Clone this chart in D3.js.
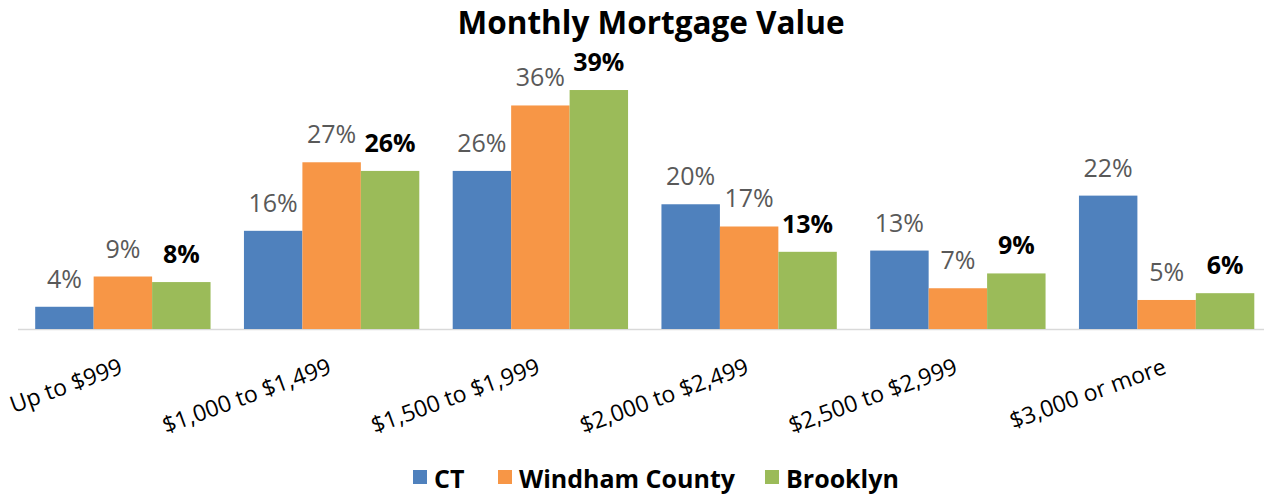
<!DOCTYPE html>
<meta charset="utf-8">
<style>
  body { margin: 0; background: #fff; }
  text { font-family: "Open Sans", sans-serif; }
  .title { font-size: 31.5px; font-weight: bold; fill: #000; }
  .lbl { font-size: 25px; }
  .cat { font-size: 23px; fill: #000; }
  .legend text { font-size: 25px; font-weight: bold; fill: #000; }
</style>
<svg width="1264" height="494"></svg>
<script src="https://d3js.org/d3.v7.min.js"></script>
<script>
  var categories = ["Up to $999", "$1,000 to $1,499", "$1,500 to $1,999", "$2,000 to $2,499", "$2,500 to $2,999", "$3,000 or more"];
  var seriesNames = ["CT", "Windham County", "Brooklyn"];
  var ct = [3.6, 15.9, 25.6, 20.2, 12.7, 21.6];
  var windham = [8.5, 27.0, 36.2, 16.6, 6.6, 4.7];
  var brooklyn = [7.6, 25.6, 38.7, 12.5, 9.0, 5.8];
  var colors = ["#4f81bd", "#f79646", "#9bbb59"];

  var svg = d3.select("svg"),
    baseline = 329;

  var data = categories.map(function(c, i) {
    return { cat: c, values: [ct[i], windham[i], brooklyn[i]] };
  });

  var x = d3.scaleBand().domain(categories).range([18.5, 1271]).paddingInner(0.16).paddingOuter(0.08);
  var xs = d3.scaleBand().domain(d3.range(3)).range([0, x.bandwidth()]);
  var y = d3.scaleLinear().domain([0, 40]).range([baseline, baseline - 247]);

  svg.append("text")
    .attr("class", "title")
    .attr("x", 651)
    .attr("y", 34)
    .attr("text-anchor", "middle")
    .text("Monthly Mortgage Value");

  // baseline axis
  svg.append("line")
    .attr("x1", 18).attr("x2", 1264)
    .attr("y1", baseline + 0.5).attr("y2", baseline + 0.5)
    .attr("stroke", "#d9d9d9")
    .attr("stroke-width", 1.5);

  var groups = svg.selectAll(".grp")
    .data(data)
    .enter().append("g")
    .attr("class", "grp")
    .attr("transform", function(d) { return "translate(" + x(d.cat) + ",0)"; });

  groups.selectAll("rect")
    .data(function(d) { return d.values; })
    .enter().append("rect")
    .attr("x", function(d, i) { return xs(i); })
    .attr("y", function(d) { return y(d); })
    .attr("width", xs.bandwidth())
    .attr("height", function(d) { return baseline - y(d); })
    .attr("fill", function(d, i) { return colors[i]; });

  groups.selectAll(".lbl")
    .data(function(d) { return d.values; })
    .enter().append("text")
    .attr("class", "lbl")
    .attr("x", function(d, i) { return xs(i) + xs.bandwidth() / 2; })
    .attr("y", function(d) { return y(d) - 19; })
    .attr("text-anchor", "middle")
    .attr("fill", function(d, i) { return i == 2 ? "#000" : "#595959"; })
    .attr("font-weight", function(d, i) { return i == 2 ? "bold" : "normal"; })
    .text(function(d) { return Math.round(d) + "%"; });

  // rotated category labels
  svg.selectAll(".cat")
    .data(categories)
    .enter().append("text")
    .attr("class", "cat")
    .attr("text-anchor", "end")
    .attr("transform", function(d) {
      return "translate(" + (x(d) + x.bandwidth() / 2 + 1) + ",373) rotate(-20)";
    })
    .text(function(d) { return d; });

  var legend = svg.append("g").attr("class", "legend");
  var legX = [413, 498, 765];
  seriesNames.forEach(function(s, i) {
    legend.append("rect")
      .attr("x", legX[i]).attr("y", 470)
      .attr("width", 14).attr("height", 14)
      .attr("fill", colors[i]);
    legend.append("text")
      .attr("x", legX[i] + 21).attr("y", 488)
      .text(s);
  });
</script>
